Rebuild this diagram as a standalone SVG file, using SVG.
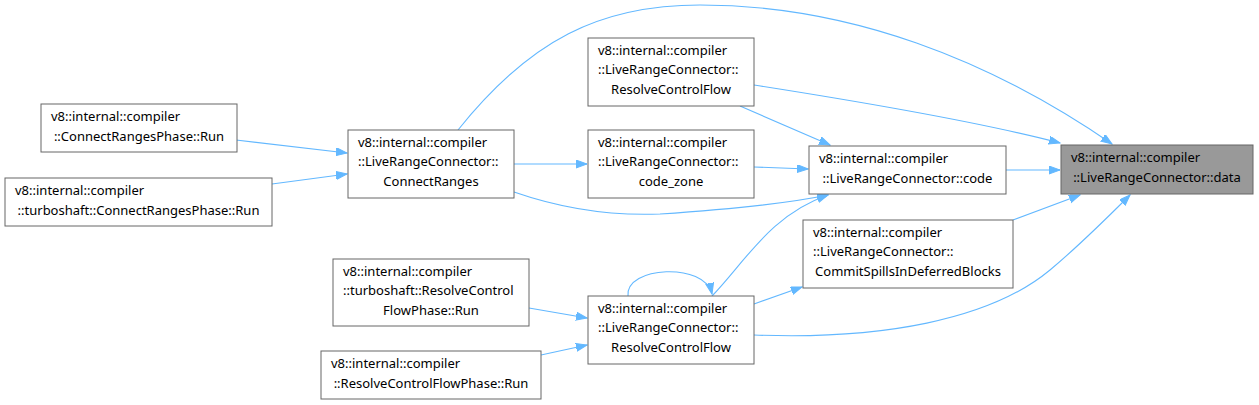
<svg xmlns="http://www.w3.org/2000/svg" width="1259" height="405" viewBox="0 0 1259 405">
<style>
.n rect{fill:#fff;stroke:#666;stroke-width:1}
.n text{font-family:"Noto Sans",sans-serif;font-size:13px;fill:#000}
.m{text-anchor:middle}
.e path{fill:none;stroke:#63b8ff;stroke-width:1.1;marker-end:url(#a)}
</style>
<defs>
<marker id="a" markerUnits="userSpaceOnUse" markerWidth="12" markerHeight="10" refX="11" refY="4" orient="auto">
<path d="M0,0 L11,4 L0,8 z" fill="#63b8ff" stroke="#63b8ff" stroke-width="1"/>
</marker>
</defs>
<rect width="1259" height="405" fill="#fff"/>
<g class="e">
<path d="M236,140 L347,153"/>
<path d="M272,184 L347,174"/>
<path d="M514,164 L587,164"/>
<path d="M754,167 L808,169"/>
<path d="M514,192 C560,208 610,216 660,214 C720,210 780,205 828,195"/>
<path d="M458,130 C530,40 600,5 700,5 C850,5 990,60 1112,144"/>
<path d="M740,106 L830,145"/>
<path d="M754,85 C850,100 980,122 1060,143"/>
<path d="M1006,170 L1060,170"/>
<path d="M1013,220 L1080,195"/>
<path d="M754,335 C880,340 990,320 1050,270 C1080,245 1105,220 1130,195"/>
<path d="M712,296 C745,262 770,215 828,195"/>
<path d="M628,296 C625,266 705,262 712,294"/>
<path d="M754,304 L802,287"/>
<path d="M529,308 L587,318"/>
<path d="M541,355 L587,345"/>
</g>
<g id="n_crp" class="n"><rect x="41" y="104" width="196" height="48"/><text x="51" y="121">v8::internal::compiler</text><text x="139" y="141" class="m">::ConnectRangesPhase::Run</text></g>
<g id="n_tcrp" class="n"><rect x="5" y="178" width="267" height="48"/><text x="15" y="195">v8::internal::compiler</text><text x="138.5" y="215" class="m">::turboshaft::ConnectRangesPhase::Run</text></g>
<g id="n_cr" class="n"><rect x="348" y="130" width="166" height="68"/><text x="358" y="147">v8::internal::compiler</text><text x="358" y="166">::LiveRangeConnector::</text><text x="431" y="186" class="m">ConnectRanges</text></g>
<g id="n_rcf1" class="n"><rect x="588" y="38" width="166" height="68"/><text x="598" y="55">v8::internal::compiler</text><text x="598" y="74">::LiveRangeConnector::</text><text x="671" y="94" class="m">ResolveControlFlow</text></g>
<g id="n_cz" class="n"><rect x="588" y="130" width="166" height="68"/><text x="598" y="147">v8::internal::compiler</text><text x="598" y="166">::LiveRangeConnector::</text><text x="671" y="186" class="m">code_zone</text></g>
<g id="n_code" class="n"><rect x="809" y="146" width="197" height="48"/><text x="819" y="163">v8::internal::compiler</text><text x="907.5" y="183" class="m">::LiveRangeConnector::code</text></g>
<g id="n_data" class="n"><rect x="1061" y="145" width="192" height="49" style="fill:#999"/><text x="1071" y="162">v8::internal::compiler</text><text x="1157" y="182" class="m">::LiveRangeConnector::data</text></g>
<g id="n_cs" class="n"><rect x="803" y="220" width="210" height="68"/><text x="813" y="237">v8::internal::compiler</text><text x="813" y="256">::LiveRangeConnector::</text><text x="908" y="276" class="m">CommitSpillsInDeferredBlocks</text></g>
<g id="n_rcf2" class="n"><rect x="588" y="296" width="166" height="68"/><text x="598" y="313">v8::internal::compiler</text><text x="598" y="332">::LiveRangeConnector::</text><text x="671" y="352" class="m">ResolveControlFlow</text></g>
<g id="n_trcfp" class="n"><rect x="333" y="259" width="196" height="67"/><text x="343" y="276">v8::internal::compiler</text><text x="343" y="295">::turboshaft::ResolveControl</text><text x="431" y="315" class="m">FlowPhase::Run</text></g>
<g id="n_rcfp" class="n"><rect x="321" y="351" width="220" height="48"/><text x="331" y="368">v8::internal::compiler</text><text x="431" y="388" class="m">::ResolveControlFlowPhase::Run</text></g>
</svg>
